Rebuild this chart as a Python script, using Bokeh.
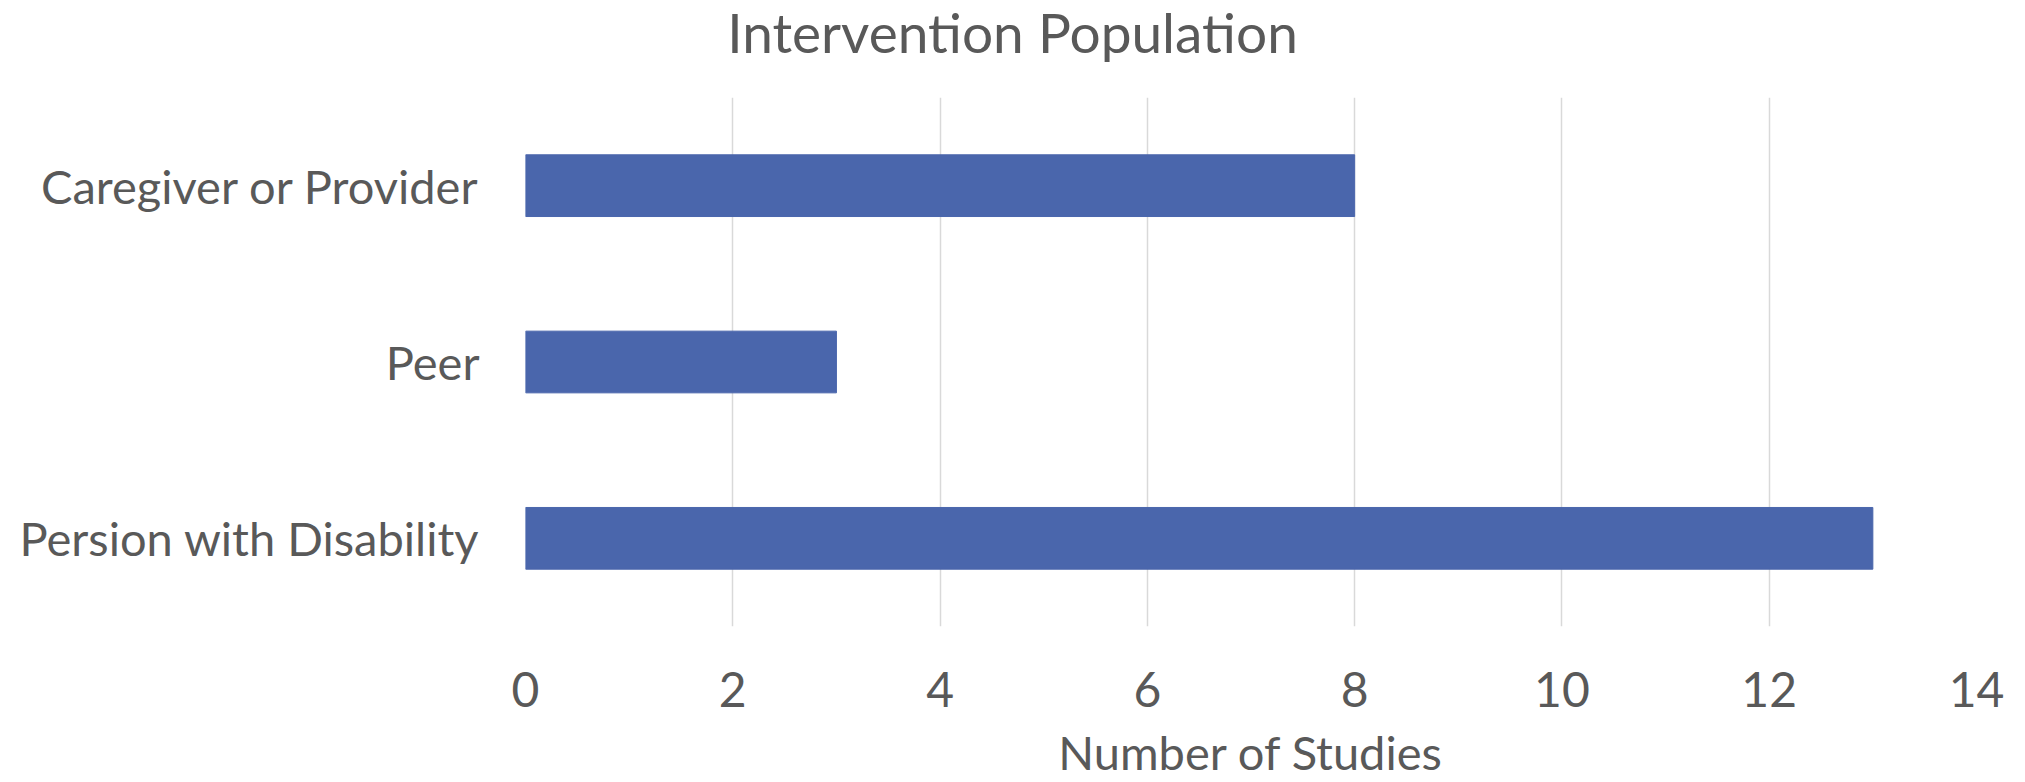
from bokeh.plotting import figure
from bokeh.layouts import column
from bokeh.models import FactorRange, Range1d, FixedTicker, Div
from bokeh.embed import file_html
from bokeh.resources import INLINE

# Intervention populations (bottom to top) and study counts
populations = ["Persion with Disability", "Peer", "Caregiver or Provider"]
studies = [13, 3, 8]
x_ticks = [0, 2, 4, 6, 8, 10, 12, 14]
chart_title = "Intervention Population"

TEXT = "#595959"
BAR = "#4A66AC"
FONT = "Lato"
W, H = 2025, 782
HEADER = 97
LEFT, RIGHT, BOTTOM = 525, 49, 152

# chart title, centred across the full width
header = Div(
    text=(f'<div style="width:{W}px;height:{HEADER}px;line-height:64px;'
          f'text-align:center;font-family:{FONT};font-size:55px;'
          f'color:{TEXT};">{chart_title}</div>'),
    width=W, height=HEADER, margin=(0, 0, 0, 0),
)

p = figure(
    width=W, height=H - HEADER,
    y_range=FactorRange(factors=populations, range_padding=0),
    x_range=Range1d(0, 14),
    output_backend="svg", toolbar_location=None,
    min_border_left=LEFT, min_border_right=RIGHT,
    min_border_top=0, min_border_bottom=BOTTOM,
    margin=(0, 0, 0, 0),
)

p.hbar(y=populations, right=studies, height=0.35, left=0,
       fill_color=BAR, line_color=BAR)

p.outline_line_color = None
p.ygrid.grid_line_color = None
p.xgrid.grid_line_color = "#D9D9D9"
p.xgrid.grid_line_width = 1.5
p.xaxis.ticker = FixedTicker(ticks=x_ticks)

for ax in (p.xaxis[0], p.yaxis[0]):
    ax.axis_line_color = None
    ax.major_tick_line_color = None
    ax.minor_tick_line_color = None
    ax.major_label_text_font = FONT
    ax.major_label_text_color = TEXT

p.xaxis.major_label_text_font_size = "48px"
p.yaxis.major_label_text_font_size = "47px"
p.yaxis.major_label_standoff = 40
p.xaxis.major_label_standoff = 39
p.xaxis.axis_label = "Number of Studies"
p.xaxis.axis_label_text_font = FONT
p.xaxis.axis_label_text_font_size = "47px"
p.xaxis.axis_label_text_font_style = "normal"
p.xaxis.axis_label_text_color = TEXT
p.xaxis.axis_label_standoff = 14

page = column(header, p, spacing=0, margin=(0, 0, 0, 0))

open("out.html", "w").write(file_html(page, INLINE))
